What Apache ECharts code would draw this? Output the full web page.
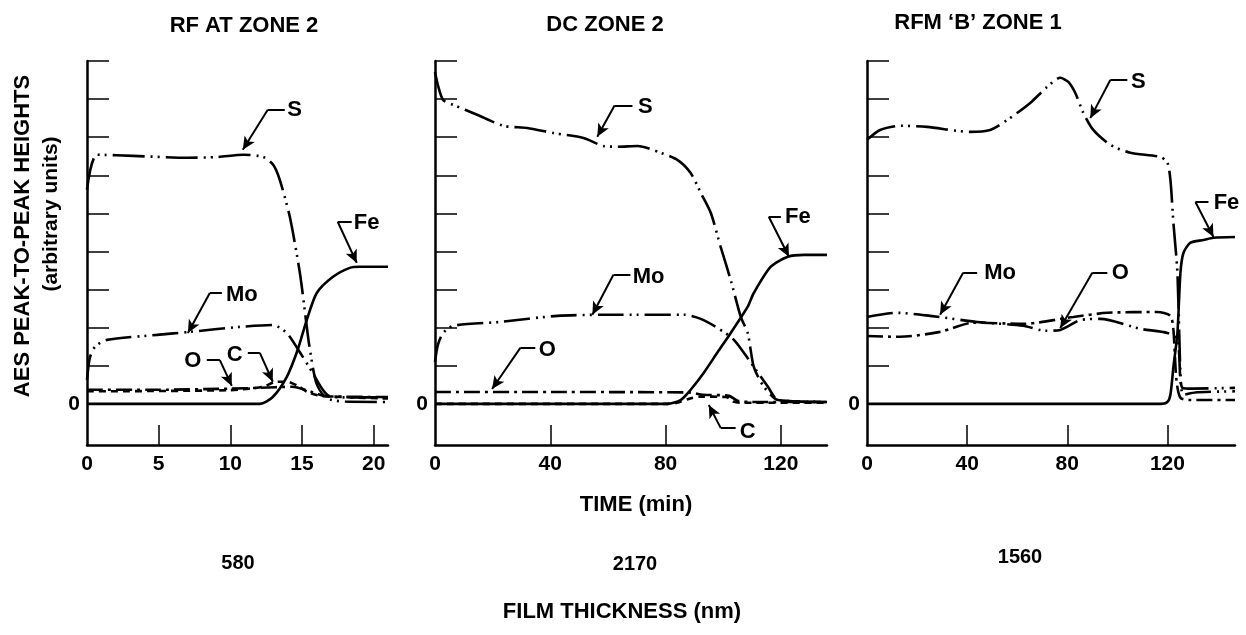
<!DOCTYPE html>
<html><head><meta charset="utf-8">
<script src="https://cdn.jsdelivr.net/npm/echarts@6/dist/echarts.min.js"></script>
<style>html,body{margin:0;padding:0;background:#fff}#c{width:1246px;height:635px}</style>
</head><body><div id="c"></div><script>
// ---------- DATA (x = time in min, y = AES peak-to-peak height, arbitrary units) ----------
const panelTitles = ['RF AT ZONE 2', 'DC ZONE 2', 'RFM \u2018B\u2019 ZONE 1'];
const thicknessLabels = ['580', '2170', '1560'];
const yTickValues = [0, 1, 2, 3, 4, 5, 6, 7, 8, 9];
const yLabelValues = [0];
const rfXTicks = [5, 10, 15, 20];
const rfXLabels = [0, 5, 10, 15, 20];
const dcXTicks = [40, 80, 120];
const dcXLabels = [0, 40, 80, 120];
const rfmXTicks = [40, 80, 120];
const rfmXLabels = [0, 40, 80, 120];

// Panel 1: RF AT ZONE 2
const rfS  = [[0,5.62],[0.7,6.54],[3.2,6.51],[7.0,6.46],[9.1,6.48],[10.9,6.54],[12.3,6.48],[13.0,6.27],[13.45,5.88],[14.15,4.91],[14.85,3.44],[15.3,2.13],[15.5,1.55],[16.0,0.55],[16.7,0.15],[18,0.06],[21,0.05]];
const rfMo = [[0,0.63],[0.2,1.21],[0.56,1.5],[1.39,1.68],[4.88,1.81],[7.18,1.89],[10.66,2.02],[12.96,2.07],[13.94,1.86],[14.84,1.36],[15.75,0.81],[16.45,0.37],[16.93,0.2],[18,0.17],[21,0.17]];
const rfO  = [[0,0.37],[5,0.37],[10,0.4],[12,0.42],[14.3,0.45],[15.7,0.31],[16.7,0.2],[21,0.18]];
const rfC  = [[0,0.33],[10,0.36],[12.3,0.45],[13.2,0.58],[14,0.58],[14.7,0.47],[15.4,0.31],[16.3,0.21],[21,0.14]];
const rfFe = [[0,0],[12.06,0],[12.96,0.18],[13.94,0.71],[14.7,1.42],[15.33,2.2],[16.03,2.91],[17.14,3.33],[18.33,3.57],[19.02,3.6],[21,3.6]];

// Panel 2: DC ZONE 2
const dcS  = [[0,8.71],[1.0,8.37],[2.8,7.98],[6.3,7.85],[14.6,7.59],[23.7,7.3],[32,7.24],[41,7.11],[51.5,6.98],[58.4,6.77],[63.3,6.75],[70.3,6.77],[78.3,6.59],[84.2,6.4],[88.7,6.06],[92.2,5.54],[95.7,5.01],[99.1,4.12],[102.6,3.25],[106.1,2.28],[108.5,1.86],[110.6,0.97],[114.1,0.45],[119,0.1],[136,0.05]];
const dcMo = [[0,1.1],[1.0,1.55],[2.8,1.86],[6.3,2.05],[22.6,2.15],[42.4,2.31],[64.3,2.34],[86.3,2.34],[92.2,2.23],[98.1,1.99],[103.7,1.68],[109.6,1.08],[115.5,0.45],[119,0.1],[136,0.05]];
const dcO  = [[0,0.31],[40,0.31],[88,0.3],[93,0.24],[102,0.21],[105,0.08],[110,0.05],[136,0.05]];
const dcC  = [[0,0],[80,0],[84,0.03],[88,0.13],[92,0.19],[101,0.18],[103.5,0.06],[106,0.03],[136,0.03]];
const dcFe = [[0,0],[80.7,0],[85.2,0.1],[88.7,0.37],[93.2,0.81],[98.1,1.36],[102.6,1.86],[108.5,2.55],[110.6,2.91],[116.5,3.6],[122.4,3.86],[128,3.91],[136,3.91]];

// Panel 3: RFM 'B' ZONE 1
const rfmS  = [[0,6.93],[5.2,7.19],[13.2,7.3],[24,7.27],[41.2,7.14],[49.2,7.19],[56,7.45],[65.2,7.9],[72,8.32],[77.2,8.56],[80.4,8.45],[83.2,8.16],[86.4,7.64],[90.4,7.19],[97.2,6.8],[105.2,6.59],[117.2,6.48],[120,6.33],[121.2,5.88],[122.4,4.75],[124,3.44],[125.2,0.81],[126,0.42],[130,0.4],[147,0.42]];
const rfmMo = [[0,2.28],[12,2.39],[25.2,2.31],[44,2.15],[62.4,2.05],[71.2,1.92],[77.2,1.94],[85.2,2.2],[93.2,2.23],[109.2,1.97],[120,1.86],[124,1.68],[125.2,0.63],[126.4,0.24],[131,0.3],[147,0.33]];
const rfmO  = [[0,1.78],[13.2,1.76],[29.2,1.89],[42.4,2.13],[62.4,2.1],[82.4,2.28],[96,2.39],[116,2.41],[121.2,2.31],[122.4,1.94],[123.6,0.63],[125.2,0.16],[129.2,0.1],[147,0.1]];
const rfmFe = [[0,0],[117.2,0],[120,0.05],[121.2,0.24],[122.4,0.97],[124,1.86],[125.2,3.44],[126.4,3.96],[129.2,4.23],[134.4,4.3],[138.4,4.36],[147,4.38]];

// Labels with leader arrows (text anchor + leader path, in data coordinates)
const rfNotes = {
  S:  {at:[14.49,7.72], path:[[13.8,7.72],[12.61,7.72],[10.87,6.67]]},
  Fe: {at:[19.51,4.75], path:[[18.47,4.78],[17.49,4.78],[18.82,3.7]]},
  Mo: {at:[10.8,2.86],  path:[[9.41,2.91],[8.57,2.91],[7.04,1.86]]},
  O:  {at:[7.39,1.13],  path:[[8.36,1.15],[9.27,1.15],[10.1,0.47]]},
  C:  {at:[10.31,1.29], path:[[11.22,1.34],[12.06,1.34],[12.96,0.58]]}
};
const dcNotes = {
  S:  {at:[73.0,7.8],   path:[[68.5,7.83],[62.3,7.83],[56.3,7.01]]},
  Fe: {at:[125.9,4.91], path:[[120,4.91],[115.8,4.91],[122.8,3.86]]},
  Mo: {at:[74.1,3.33],  path:[[67.8,3.39],[61.9,3.39],[54.6,2.34]]},
  O:  {at:[39.0,1.42],  path:[[34.8,1.47],[29.6,1.47],[19.8,0.39]]},
  C:  {at:[108.5,-0.73],path:[[104.3,-0.63],[99.1,-0.63],[95,-0.03]]}
};
const rfmNotes = {
  S:  {at:[108.4,8.45], path:[[104,8.5],[97.2,8.5],[89.2,7.5]]},
  Fe: {at:[143.6,5.28], path:[[136.4,5.3],[131.2,5.3],[138.4,4.38]]},
  Mo: {at:[53.2,3.44],  path:[[44,3.44],[38.4,3.44],[29.2,2.34]]},
  O:  {at:[101.2,3.44], path:[[96,3.44],[90,3.44],[77.2,1.99]]}
};

// ---------- BUILD ----------
const FONT = '"Liberation Sans", Arial, Helvetica, sans-serif';
const panels = [
  {grid:{left:87, top:61, width:301, height:384}, xMax:21, xTicks:rfXTicks, xLabels:rfXLabels,
   lines:{S:rfS, Mo:rfMo, O:rfO, C:rfC, Fe:rfFe}, notes:rfNotes},
  {grid:{left:435, top:61, width:392, height:384}, xMax:136, xTicks:dcXTicks, xLabels:dcXLabels,
   lines:{S:dcS, Mo:dcMo, O:dcO, C:dcC, Fe:dcFe}, notes:dcNotes},
  {grid:{left:867, top:61, width:368, height:384}, xMax:147, xTicks:rfmXTicks, xLabels:rfmXLabels,
   lines:{S:rfmS, Mo:rfmMo, O:rfmO, Fe:rfmFe}, notes:rfmNotes}
];
const dashOf = {
  S:  [32,6,2,5,2,6],
  Mo: [26,6,2,5,2,6],
  O:  [16,5,3,5],
  C:  [7,5],
  Fe: 'solid'
};

const grids = [], xAxes = [], yAxes = [], series = [];
const labelFont = {fontSize:21, fontWeight:'bold', fontFamily:FONT, color:'#000'};
panels.forEach((p, i) => {
  grids.push(Object.assign({containLabel:false}, p.grid));
  xAxes.push({
    type:'value', gridIndex:i, min:0, max:p.xMax,
    axisLine:{show:true, onZero:false, lineStyle:{color:'#000', width:2.5}},
    axisTick:{show:true, inside:true, length:20, customValues:p.xTicks, lineStyle:{color:'#000', width:1.5}},
    axisLabel:Object.assign({show:true, margin:9, customValues:p.xLabels}, labelFont),
    splitLine:{show:false}
  });
  yAxes.push({
    type:'value', gridIndex:i, min:-1.08, max:9,
    axisLine:{show:true, onZero:false, lineStyle:{color:'#000', width:2.5}},
    axisTick:{show:true, inside:true, length:22, customValues:yTickValues, lineStyle:{color:'#000', width:1.5}},
    axisLabel:Object.assign({show:true, margin:7, customValues:yLabelValues}, labelFont),
    splitLine:{show:false}
  });
  Object.keys(p.lines).forEach(name => {
    const note = p.notes[name];
    const s = {
      type:'line', name:name, xAxisIndex:i, yAxisIndex:i,
      data:p.lines[name], showSymbol:false, symbol:'none', smooth:0.25,
      lineStyle:{color:'#000', width:2.6, type:dashOf[name], cap:'butt'},
      silent:true, animation:false, clip:false
    };
    if (note) {
      const [a, b, c] = note.path;
      s.markLine = {
        silent:true, animation:false, precision:3,
        lineStyle:{color:'#000', width:2, type:'solid'},
        label:{show:false}, emphasis:{disabled:true},
        symbolSize:[9,13],
        data:[
          [{coord:a, symbol:'none'}, {coord:b, symbol:'none'}],
          [{coord:b, symbol:'none'}, {coord:c, symbol:'arrow'}]
        ]
      };
      s.markPoint = {
        silent:true, animation:false, symbol:'circle', symbolSize:1,
        itemStyle:{color:'rgba(0,0,0,0)'},
        label:Object.assign({show:true, position:'inside', formatter:(prm)=>prm.name}, labelFont, {fontSize:22}),
        data:[{name:name, coord:note.at}]
      };
    }
    series.push(s);
  });
});

function txt(x, y, text, size, rot) {
  return {type:'text', x:x, y:y, rotation:rot||0, silent:true,
    style:{text:text, font:'bold ' + size + 'px ' + FONT, fill:'#000',
      align:'center', verticalAlign:'middle', textAlign:'center', textVerticalAlign:'middle'}};
}
const graphics = [
  txt(244, 26, panelTitles[0], 22),
  txt(605, 25, panelTitles[1], 22),
  txt(978, 23, panelTitles[2], 22),
  txt(23, 236, 'AES PEAK-TO-PEAK HEIGHTS', 22, Math.PI/2),
  txt(51, 214, '(arbitrary units)', 21, Math.PI/2),
  txt(636, 505, 'TIME (min)', 22),
  txt(238, 563, thicknessLabels[0], 20),
  txt(635, 564, thicknessLabels[1], 20),
  txt(1020, 557, thicknessLabels[2], 20),
  txt(622, 612, 'FILM THICKNESS (nm)', 22)
];

const chart = echarts.init(document.getElementById('c'), null, {renderer:'canvas'});
chart.setOption({
  backgroundColor:'#fff', animation:false,
  grid:grids, xAxis:xAxes, yAxis:yAxes, series:series, graphic:graphics
});
</script></body></html>
